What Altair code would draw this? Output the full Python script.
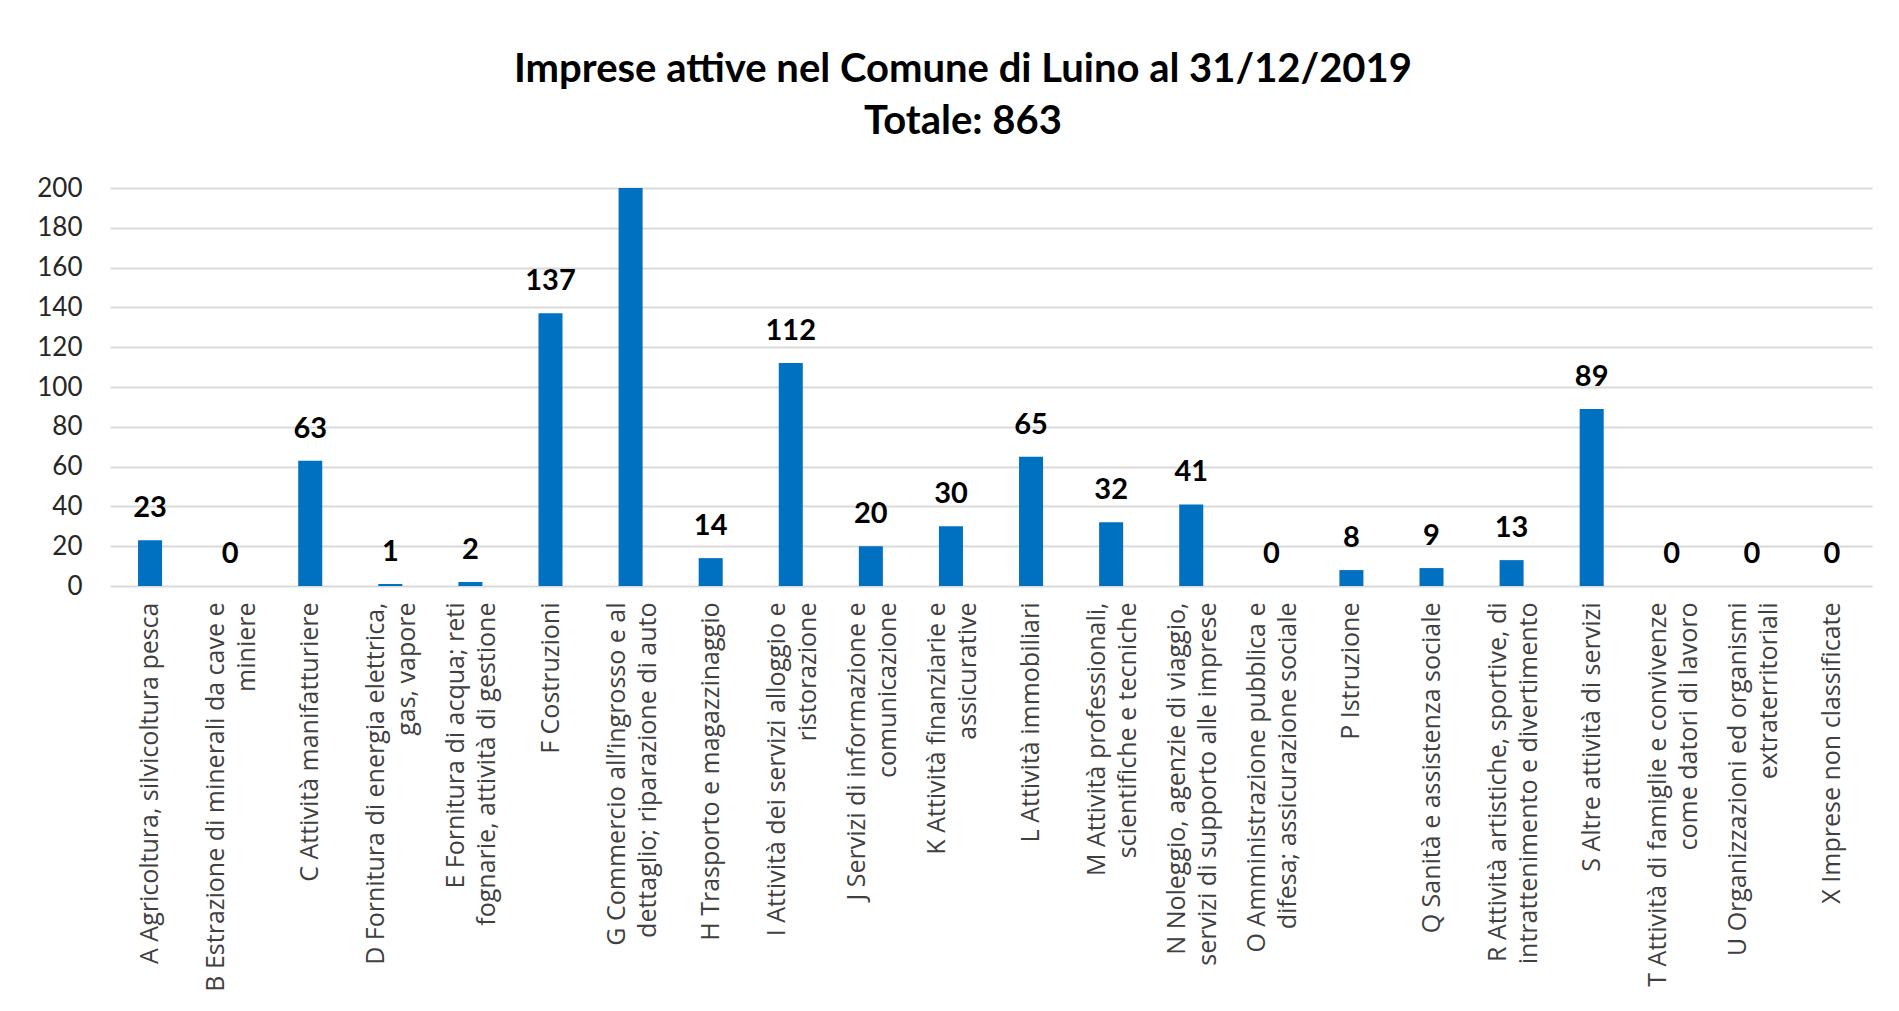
import altair as alt
import pandas as pd

categories = [
    "A Agricoltura, silvicoltura pesca",
    "B Estrazione di minerali da cave e|miniere",
    "C Attività manifatturiere",
    "D Fornitura di energia elettrica,|gas, vapore",
    "E Fornitura di acqua; reti|fognarie, attività di gestione",
    "F Costruzioni",
    "G Commercio all’ingrosso e al|dettaglio; riparazione di auto",
    "H Trasporto e magazzinaggio",
    "I Attività dei servizi alloggio e|ristorazione",
    "J Servizi di informazione e|comunicazione",
    "K Attività finanziarie e|assicurative",
    "L Attività immobiliari",
    "M Attività professionali,|scientifiche e tecniche",
    "N Noleggio, agenzie di viaggio,|servizi di supporto alle imprese",
    "O Amministrazione pubblica e|difesa; assicurazione sociale",
    "P Istruzione",
    "Q Sanità e assistenza sociale",
    "R Attività artistiche, sportive, di|intrattenimento e divertimento",
    "S Altre attività di servizi",
    "T Attività di famiglie e convivenze|come datori di lavoro",
    "U Organizzazioni ed organismi|extraterritoriali",
    "X Imprese non classificate",
]
values = [23, 0, 63, 1, 2, 137, 204, 14, 112, 20, 30, 65, 32, 41, 0, 8, 9, 13, 89, 0, 0, 0]
y_ticks = [0, 20, 40, 60, 80, 100, 120, 140, 160, 180, 200]
title_lines = ["Imprese attive nel Comune di Luino al 31/12/2019", "Totale: 863"]

df = pd.DataFrame({"cat": categories, "n": values})

x_axis = alt.Axis(
    labelExpr="split(datum.label, '|')",
    labelAngle=270,
    labelAlign="right",
    labelBaseline="middle",
    labelFont="Open Sans",
    labelFontSize=25,
    labelLineHeight=31,
    labelColor="#404040",
    labelPadding=16,
    labelLimit=700,
    labelOffset={"condition": {"test": "indexof(datum.value, '|') >= 0", "value": -14}, "value": 0},
    ticks=False,
    domain=False,
    grid=False,
)
x_scale = alt.Scale(paddingInner=0.7, paddingOuter=0.35)

y_axis = alt.Axis(
    values=y_ticks,
    tickCount=12,
    labelFont="Lato",
    labelFontSize=26,
    labelColor="#262626",
    labelPadding=28,
    labelOverlap=False,
    ticks=False,
    domain=False,
    grid=True,
    gridColor="#d9d9d9",
    gridWidth=2,
)
y_scale = alt.Scale(domain=[0, 200], clamp=True, nice=False)

bars = alt.Chart(df).mark_bar(color="#0070C0", clip=True).encode(
    x=alt.X("cat:N", sort=categories, title=None, scale=x_scale, axis=x_axis),
    y=alt.Y("n:Q", scale=y_scale, title=None, axis=y_axis),
)

labels = alt.Chart(df).transform_filter("datum.n <= 200").mark_text(
    baseline="bottom", dy=-17, font="Lato", fontSize=29, fontWeight="bold", color="#000000"
).encode(
    x=alt.X("cat:N", sort=categories, title=None, scale=x_scale, axis=x_axis),
    y=alt.Y("n:Q", scale=y_scale, title=None, axis=y_axis),
    text="n:Q",
)

chart = (
    alt.layer(bars, labels)
    .properties(
        width=1762,
        height=398,
        padding={"left": 28, "top": 42, "right": 10, "bottom": 0},
        title=alt.TitleParams(
            text=title_lines,
            font="Lato",
            fontSize=40,
            fontWeight="bold",
            color="#000000",
            lineHeight=52,
            offset=33,
            dx=-28,
            anchor="middle",
        ),
    )
    .configure_view(stroke=None)
)

chart.save("out.html", embed_options={"renderer": "svg", "actions": False})
